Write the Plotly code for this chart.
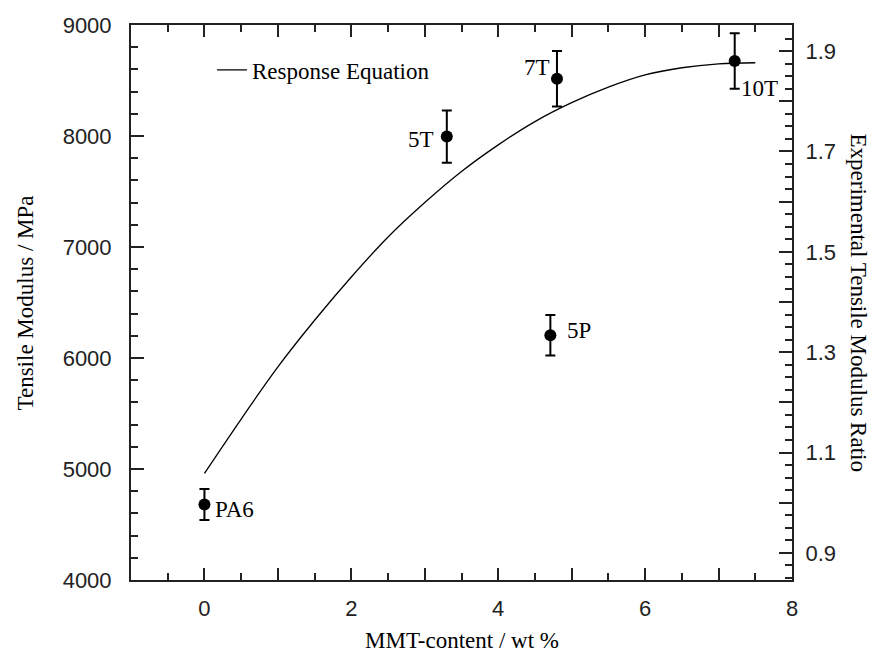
import plotly.graph_objects as go

# --- data ---
sample_names = ["PA6", "5T", "7T", "10T", "5P"]
mmt_content = [0.0, 3.30, 4.80, 7.22, 4.71]
tensile_modulus = [4680, 7995, 8515, 8675, 6205]
modulus_error = [140, 235, 250, 250, 183]

curve_x = [0.0, 0.5, 1.0, 1.5, 2.0, 2.5, 3.0, 3.5, 4.0, 4.5, 5.0, 5.5, 6.0, 6.5, 7.0, 7.5]
curve_y = [4960, 5450, 5920, 6340, 6730, 7090, 7400, 7680, 7920, 8130, 8300, 8440, 8550, 8615, 8650, 8660]

x_tick_vals = [-1, 0, 1, 2, 3, 4, 5, 6, 7, 8]
x_tick_text = ["", "0", "", "2", "", "4", "", "6", "", "8"]
y_tick_vals = [4000, 5000, 6000, 7000, 8000, 9000]
ratio_tick_vals = [0.9, 1.0, 1.1, 1.2, 1.3, 1.4, 1.5, 1.6, 1.7, 1.8, 1.9]
ratio_tick_text = ["0.9", "", "1.1", "", "1.3", "", "1.5", "", "1.7", "", "1.9"]

# label placement (style)
label_style = {
    "PA6": dict(xanchor="left", xshift=9, yshift=-5),
    "5T": dict(xanchor="right", xshift=-11, yshift=-3),
    "7T": dict(xanchor="right", xshift=-5, yshift=11),
    "10T": dict(xanchor="left", xshift=4, yshift=-27),
    "5P": dict(xanchor="left", xshift=15, yshift=5),
}

SERIF = "Liberation Serif"
SANS = "Liberation Sans"
AX = "#222"

fig = go.Figure()

fig.add_trace(go.Scatter(
    x=curve_x, y=curve_y, mode="lines", name="Response Equation",
    line=dict(color="black", width=1.3, shape="spline"),
    showlegend=True,
))

fig.add_trace(go.Scatter(
    x=mmt_content, y=tensile_modulus, mode="markers",
    marker=dict(color="black", size=12, symbol="circle"),
    error_y=dict(type="data", array=modulus_error, color="black", thickness=2, width=5),
    showlegend=False,
))

# dummy traces to activate the right and top axes
fig.add_trace(go.Scatter(x=[None], y=[None], yaxis="y2", showlegend=False, hoverinfo="skip"))
fig.add_trace(go.Scatter(x=[None], y=[None], xaxis="x2", showlegend=False, hoverinfo="skip"))

for name, xv, yv in zip(sample_names, mmt_content, tensile_modulus):
    st = label_style[name]
    fig.add_annotation(
        x=xv, y=yv, text=name, showarrow=False, yanchor="middle",
        font=dict(family=SERIF, size=23, color="black"), **st,
    )

axis_common = dict(
    showline=True, linecolor=AX, linewidth=2, ticks="inside",
    tickcolor=AX, tickwidth=2, showgrid=False, zeroline=False,
)

x_minor = dict(tickmode="linear", tick0=0, dtick=0.5, ticklen=7, tickwidth=2,
               tickcolor=AX, ticks="inside")

fig.update_layout(
    width=889, height=654,
    margin=dict(l=131, r=97, t=25, b=74),
    paper_bgcolor="white", plot_bgcolor="white",
    xaxis=dict(
        range=[-1, 8], tickmode="array", tickvals=x_tick_vals, ticktext=x_tick_text,
        ticklen=12, minor=x_minor,
        tickfont=dict(family=SANS, size=22, color=AX),
        ticklabelstandoff=8,
        **axis_common,
    ),
    xaxis2=dict(
        overlaying="x", side="top", range=[-1, 8], tickmode="array",
        tickvals=x_tick_vals, showticklabels=False,
        ticklen=12, minor=x_minor,
        **axis_common,
    ),
    yaxis=dict(
        range=[4000, 9000], tickmode="array", tickvals=y_tick_vals,
        ticklen=13,
        minor=dict(tickmode="linear", tick0=4000, dtick=200, ticklen=7, tickwidth=2,
                   tickcolor=AX, ticks="inside"),
        tickfont=dict(family=SANS, size=22, color=AX),
        ticklabelstandoff=13,
        **axis_common,
    ),
    yaxis2=dict(
        overlaying="y", side="right", range=[0.846, 1.952],
        tickmode="array", tickvals=ratio_tick_vals, ticktext=ratio_tick_text,
        ticklen=13,
        minor=dict(tickmode="linear", tick0=0.9, dtick=0.025, ticklen=7, tickwidth=2,
                   tickcolor=AX, ticks="inside"),
        tickfont=dict(family=SANS, size=22, color=AX),
        ticklabelstandoff=7,
        **axis_common,
    ),
    legend=dict(
        x=(212 - 131) / 661, y=1 - (70 - 25) / 555, xanchor="left", yanchor="middle",
        bgcolor="rgba(0,0,0,0)", borderwidth=0,
        font=dict(family=SERIF, size=23, color="black"),
    ),
    showlegend=True,
)

# axis titles as annotations
fig.add_annotation(text="MMT-content / wt %", xref="paper", yref="paper",
                   x=0.5, y=-(640 - 580) / 555, yanchor="middle", showarrow=False,
                   font=dict(family=SERIF, size=23, color="black"))
fig.add_annotation(text="Tensile Modulus / MPa", xref="paper", yref="paper",
                   x=(25 - 131) / 661, y=0.5, xanchor="center", showarrow=False, textangle=-90,
                   font=dict(family=SERIF, size=23, color="black"))
fig.add_annotation(text="Experimental Tensile Modulus Ratio", xref="paper", yref="paper",
                   x=(858 - 131) / 661, y=0.5, xanchor="center", showarrow=False, textangle=90,
                   font=dict(family=SERIF, size=23, color="black"))

fig.write_html("out.html")
